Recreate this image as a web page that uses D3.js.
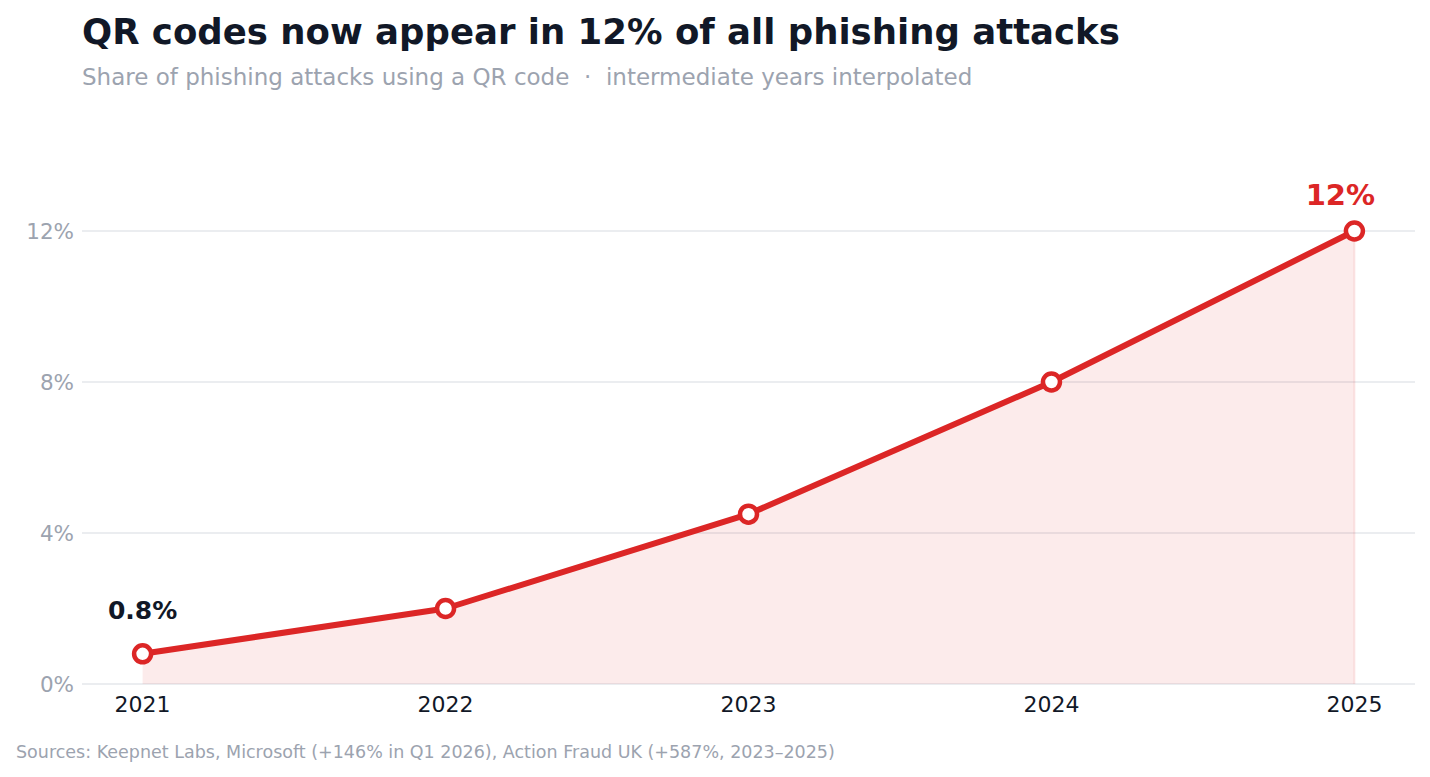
<!DOCTYPE html>
<html><head><meta charset="utf-8">
<script src="https://cdn.jsdelivr.net/npm/d3@7"></script>
<style>body{margin:0;background:#fff;font-family:"DejaVu Sans",sans-serif}</style>
</head><body><svg id="c" width="1430" height="777"></svg>
<script>
const years=[2021,2022,2023,2024,2025];
const values=[0.8,2.0,4.5,8.0,12.0];
const yTicks=[0,4,8,12];
const svg=d3.select("#c");
const x=d3.scaleLinear().domain([2020.8,2025.2]).range([82,1415]);
const y=d3.scaleLinear().domain([0,12]).range([684,231]);
const data=years.map((d,i)=>({yr:d,v:values[i]}));
svg.append("text").attr("x",82).attr("y",44).attr("font-size",35.5).attr("font-weight","bold").attr("fill","#111827").text("QR codes now appear in 12% of all phishing attacks");
svg.append("text").attr("x",82).attr("y",85).attr("font-size",23).attr("fill","#9ca3af").text("Share of phishing attacks using a QR code \u00a0\u00b7\u00a0 intermediate years interpolated");
yTicks.forEach(t=>{
  svg.append("line").attr("x1",82).attr("x2",1415).attr("y1",y(t)).attr("y2",y(t)).attr("stroke","#e5e7eb").attr("stroke-width",1.5);
  svg.append("text").attr("x",74).attr("y",y(t)).attr("dy","0.35em").attr("text-anchor","end").attr("font-size",21.5).attr("fill","#9ca3af").text(t+"%");
});
years.forEach(yr=>svg.append("text").attr("x",x(yr)).attr("y",712).attr("text-anchor","middle").attr("font-size",22).attr("fill","#111827").text(yr));
svg.append("path").datum(data).attr("d",d3.area().x(d=>x(d.yr)).y0(y(0)).y1(d=>y(d.v))).attr("fill","#dc2626").attr("fill-opacity",0.09);
svg.append("line").attr("x1",x(2025)).attr("x2",x(2025)).attr("y1",y(12)).attr("y2",y(0)).attr("stroke","#dc2626").attr("stroke-opacity",0.1).attr("stroke-width",2);
svg.append("path").datum(data).attr("d",d3.line().x(d=>x(d.yr)).y(d=>y(d.v))).attr("fill","none").attr("stroke","#dc2626").attr("stroke-width",6).attr("stroke-linejoin","round");
svg.selectAll("circle").data(data).join("circle").attr("cx",d=>x(d.yr)).attr("cy",d=>y(d.v)).attr("r",8.5).attr("fill","#fff").attr("stroke","#dc2626").attr("stroke-width",4.5);
svg.append("text").attr("x",x(2021)).attr("y",y(0.8)-35).attr("text-anchor","middle").attr("font-size",25).attr("font-weight","bold").attr("fill","#111827").text("0.8%");
svg.append("text").attr("x",x(2025)-14).attr("y",y(12)-26).attr("text-anchor","middle").attr("font-size",29).attr("font-weight","bold").attr("fill","#dc2626").text("12%");
svg.append("text").attr("x",16).attr("y",758).attr("font-size",17.5).attr("fill","#9ca3af").text("Sources: Keepnet Labs, Microsoft (+146% in Q1 2026), Action Fraud UK (+587%, 2023\u20132025)");
</script></body></html>
